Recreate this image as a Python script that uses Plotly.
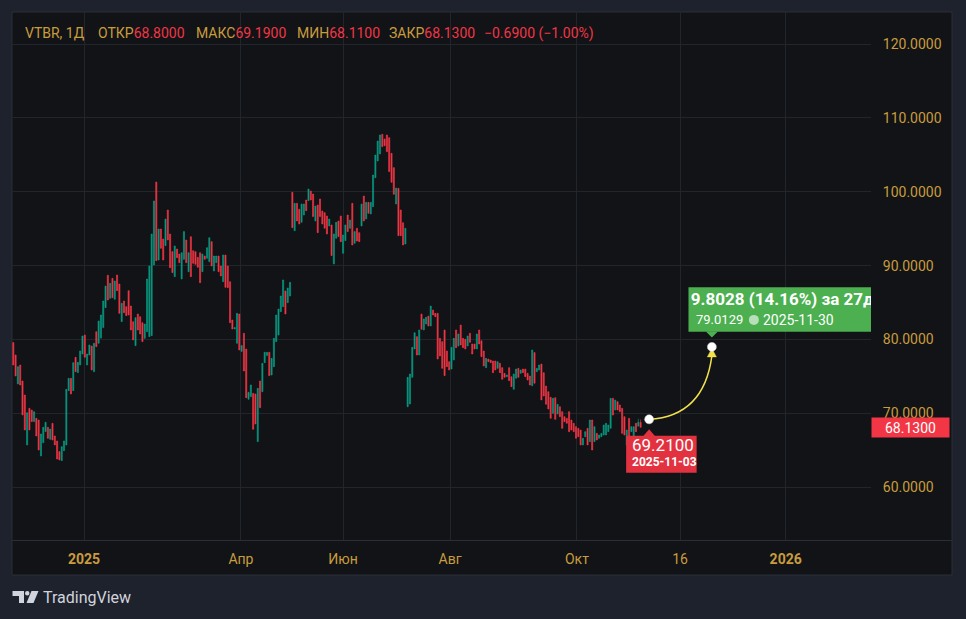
import plotly.graph_objects as go

# ---------------- data (daily bars, VTBR) ----------------
OPEN = [
    79.59, 77.92, 74.00, 76.56, 74.40, 72.50, 65.74, 70.70, 70.47, 68.90,
    69.35, 69.12, 64.25, 66.05, 67.54, 68.13, 66.50, 68.67, 66.96, 66.28,
    64.84, 63.62, 64.97, 65.74, 73.09, 74.76, 73.09, 77.60, 75.53, 76.56,
    78.05, 80.62, 76.56, 77.92, 79.13, 75.66, 81.07, 79.50, 80.20, 81.62,
    84.32, 88.70, 85.58, 88.29, 85.45, 88.74, 87.52, 82.43, 85.22, 84.46,
    86.62, 84.55, 82.43, 79.18, 83.46, 83.10, 82.29, 80.17, 81.07, 80.40,
    80.53, 90.09, 101.33, 90.77, 94.97, 93.61, 92.71, 97.54, 94.29, 91.90,
    88.52, 92.26, 91.58, 88.20, 90.86, 93.48, 89.19, 93.93, 92.03, 91.90,
    91.13, 91.76, 89.19, 91.31, 91.00, 90.55, 93.25, 89.28, 90.41, 91.31,
    89.96, 87.84, 91.45, 89.96, 87.84, 82.65, 81.43, 79.50, 83.46, 78.40,
    80.85, 78.73, 71.92, 72.28, 72.73, 72.64, 66.19, 74.40, 72.95, 76.88,
    77.83, 78.28, 75.21, 76.34, 79.72, 80.62, 83.78, 84.46, 86.58, 85.00,
    85.90, 99.93, 94.74, 98.44, 97.63, 95.87, 96.86, 98.89, 98.80, 100.11,
    99.70, 96.05, 98.21, 99.03, 97.40, 97.18, 96.73, 95.37, 95.51, 90.23,
    93.70, 96.05, 96.73, 91.67, 93.39, 96.86, 95.06, 98.44, 93.03, 95.06,
    94.47, 95.37, 99.43, 96.32, 98.57, 97.00, 97.99, 101.91, 104.17, 105.12,
    107.78, 107.15, 107.69, 107.33, 105.21, 103.27, 98.35, 100.47, 97.54, 95.82,
    92.94, 70.92, 71.28, 74.89, 78.73, 80.40, 77.91, 83.46, 81.30, 82.11,
    83.19, 81.84, 84.00, 83.55, 83.55, 80.17, 79.72, 81.30, 78.46, 77.01,
    76.02, 77.24, 81.30, 79.13, 81.97, 80.17, 80.03, 79.13, 80.85, 79.40,
    79.40, 78.73, 81.30, 79.85, 78.46, 76.20, 77.37, 77.24, 77.10, 77.10,
    76.11, 76.79, 76.20, 75.43, 74.98, 76.20, 74.98, 73.27, 74.76, 76.11,
    75.43, 76.02, 76.02, 75.43, 75.07, 73.76, 78.24, 75.66, 75.89, 76.70,
    75.52, 73.72, 72.95, 72.19, 70.02, 72.14, 69.93, 70.92, 70.25, 69.57,
    69.34, 70.25, 69.12, 68.67, 68.22, 67.99, 67.76, 65.74, 66.86, 67.99,
    66.19, 69.12, 66.19, 67.31, 66.64, 66.86, 67.09, 67.09, 67.54, 67.99,
    72.05, 70.47, 71.60, 71.15, 70.70, 69.57, 65.74, 69.34, 67.54, 65.96,
    68.67, 68.30, 68.80,
]
HIGH = [
    79.59, 77.92, 76.34, 76.56, 74.40, 72.50, 70.11, 70.70, 70.47, 70.25,
    69.35, 69.12, 67.23, 68.13, 68.81, 68.13, 67.90, 68.67, 66.96, 66.28,
    64.84, 65.51, 66.28, 73.27, 74.76, 74.76, 76.88, 77.60, 76.92, 78.46,
    80.49, 80.62, 78.05, 79.27, 79.13, 79.50, 81.07, 82.52, 83.33, 85.22,
    87.25, 88.70, 87.61, 88.29, 87.93, 88.74, 87.52, 84.91, 85.22, 84.46,
    86.62, 84.55, 82.43, 82.97, 83.46, 83.10, 82.29, 82.11, 88.20, 89.96,
    94.29, 98.76, 101.33, 94.97, 94.97, 93.61, 96.32, 97.54, 94.29, 91.90,
    92.67, 92.26, 91.58, 91.76, 94.61, 93.48, 91.76, 93.93, 92.03, 91.90,
    91.13, 91.76, 91.58, 91.31, 92.44, 93.79, 93.25, 91.31, 91.31, 91.31,
    89.96, 91.45, 91.45, 89.96, 87.84, 82.65, 81.62, 83.55, 83.46, 79.20,
    80.85, 78.73, 72.86, 73.86, 72.73, 72.64, 73.41, 74.40, 76.79, 78.28,
    78.28, 78.28, 77.47, 80.17, 83.33, 84.14, 85.90, 88.07, 86.58, 86.98,
    87.75, 99.93, 98.44, 98.44, 97.63, 98.35, 98.35, 98.89, 100.38, 100.11,
    99.70, 98.08, 98.21, 99.03, 97.40, 97.18, 96.73, 96.32, 95.51, 94.29,
    95.87, 96.05, 96.73, 94.15, 95.51, 96.86, 96.18, 98.44, 94.61, 95.06,
    94.47, 98.35, 99.43, 98.57, 98.57, 98.57, 102.27, 104.98, 106.87, 107.69,
    107.78, 107.15, 107.69, 107.33, 105.21, 103.27, 100.50, 100.47, 97.54, 95.82,
    95.06, 74.89, 75.34, 78.95, 80.94, 80.40, 81.30, 83.46, 82.79, 83.01,
    83.19, 84.54, 84.00, 83.55, 83.55, 80.17, 79.72, 81.30, 78.46, 77.01,
    78.95, 80.17, 81.30, 80.76, 81.97, 80.17, 80.03, 80.49, 80.85, 79.40,
    79.40, 80.76, 81.30, 79.85, 78.46, 77.46, 77.37, 77.24, 77.10, 77.10,
    77.01, 76.79, 76.20, 75.43, 75.21, 76.20, 74.98, 75.34, 76.02, 76.11,
    75.89, 76.02, 76.02, 75.43, 75.07, 78.59, 78.24, 76.11, 76.56, 76.70,
    75.52, 73.72, 72.95, 72.19, 72.05, 72.14, 71.24, 70.92, 70.25, 69.57,
    69.34, 70.25, 69.12, 68.67, 68.22, 67.99, 67.76, 66.64, 67.54, 67.99,
    69.12, 69.12, 68.22, 67.31, 67.09, 67.31, 68.44, 68.67, 68.44, 72.05,
    72.05, 71.82, 71.60, 71.15, 70.70, 69.57, 67.76, 69.34, 68.22, 68.22,
    68.67, 69.30, 69.19,
]
LOW = [
    76.56, 75.08, 74.00, 73.86, 69.80, 67.77, 65.74, 67.77, 68.90, 68.90,
    66.96, 65.06, 64.25, 66.05, 67.54, 66.64, 66.50, 66.41, 65.74, 63.84,
    63.71, 63.62, 64.97, 65.74, 73.09, 72.64, 73.09, 75.66, 75.53, 76.56,
    78.05, 77.60, 76.56, 77.92, 75.89, 75.66, 79.04, 79.50, 80.20, 81.62,
    84.32, 85.36, 85.58, 85.67, 85.45, 86.62, 83.55, 82.43, 83.64, 83.24,
    83.33, 81.30, 79.95, 79.18, 81.30, 80.76, 79.72, 80.17, 81.07, 80.40,
    80.53, 90.09, 90.68, 90.77, 92.35, 90.77, 92.71, 93.48, 89.73, 89.06,
    88.52, 91.09, 90.41, 88.20, 90.86, 90.41, 89.19, 88.52, 90.32, 90.18,
    89.78, 87.70, 89.19, 90.86, 91.00, 90.55, 89.96, 89.28, 90.41, 89.19,
    88.61, 87.84, 87.07, 87.03, 82.29, 81.43, 81.43, 79.50, 78.59, 78.40,
    75.75, 72.14, 71.92, 72.28, 67.86, 68.58, 66.19, 70.79, 72.95, 76.88,
    77.83, 75.12, 75.21, 76.34, 79.72, 80.62, 83.78, 84.46, 83.46, 85.00,
    85.90, 95.15, 94.74, 96.05, 95.64, 95.87, 96.86, 97.45, 98.80, 98.89,
    96.64, 96.05, 94.47, 96.64, 95.64, 95.06, 94.29, 95.37, 91.36, 90.23,
    93.70, 93.93, 93.25, 91.67, 93.39, 94.61, 95.06, 92.80, 93.03, 93.34,
    93.25, 95.37, 96.05, 96.32, 97.09, 97.00, 97.99, 101.91, 104.17, 105.12,
    106.11, 106.24, 105.43, 102.73, 101.28, 99.66, 98.35, 94.06, 94.06, 92.80,
    92.94, 70.92, 71.28, 74.89, 78.73, 77.91, 77.91, 81.39, 81.30, 82.11,
    81.84, 81.84, 83.33, 83.10, 77.37, 77.78, 76.11, 75.12, 76.34, 75.89,
    76.02, 77.24, 78.91, 79.13, 79.27, 78.91, 78.73, 79.13, 79.63, 78.05,
    78.73, 78.73, 79.40, 77.69, 76.43, 76.20, 77.01, 76.88, 75.52, 75.89,
    76.11, 75.52, 74.62, 74.89, 74.98, 74.44, 73.63, 73.27, 74.76, 74.89,
    75.43, 75.52, 74.98, 74.53, 73.85, 73.76, 74.09, 75.66, 75.89, 71.83,
    72.37, 71.24, 70.61, 69.35, 70.02, 69.21, 69.93, 69.57, 67.99, 68.89,
    68.67, 67.54, 67.76, 67.54, 66.64, 66.86, 65.74, 65.74, 66.86, 65.74,
    66.19, 65.06, 66.19, 66.41, 66.64, 66.86, 67.09, 67.09, 67.54, 67.99,
    69.79, 70.47, 70.47, 70.25, 67.31, 67.09, 65.74, 66.19, 67.54, 65.96,
    67.54, 68.20, 68.11,
]
CLOSE = [
    76.56, 75.08, 76.34, 73.86, 69.80, 67.77, 70.11, 67.77, 68.90, 70.25,
    66.96, 65.06, 67.23, 68.13, 68.81, 66.64, 67.90, 66.41, 65.74, 63.84,
    63.71, 65.51, 66.28, 73.27, 74.76, 72.64, 76.88, 75.66, 76.92, 78.46,
    80.49, 77.60, 78.05, 79.27, 75.89, 79.50, 79.04, 82.52, 83.33, 85.22,
    87.25, 85.36, 87.61, 85.67, 87.93, 86.62, 83.55, 84.91, 83.64, 83.24,
    83.33, 81.30, 79.95, 82.97, 81.30, 80.76, 79.72, 82.11, 88.20, 89.96,
    94.29, 98.76, 90.68, 94.97, 92.35, 90.77, 96.32, 93.48, 89.73, 89.06,
    92.67, 91.09, 90.41, 91.76, 94.61, 90.41, 91.76, 88.52, 90.32, 90.18,
    89.78, 87.70, 91.58, 90.86, 92.44, 93.79, 89.96, 91.31, 91.31, 89.19,
    88.61, 91.45, 87.07, 87.03, 82.29, 81.43, 81.62, 83.55, 78.59, 79.20,
    75.75, 72.14, 72.86, 73.86, 67.86, 68.58, 73.41, 70.79, 76.79, 78.28,
    78.28, 75.12, 77.47, 80.17, 83.33, 84.14, 85.90, 88.07, 83.46, 86.98,
    87.75, 95.15, 98.44, 96.05, 95.64, 98.35, 98.35, 97.45, 100.38, 98.89,
    96.64, 98.08, 94.47, 96.64, 95.64, 95.06, 94.29, 96.32, 91.36, 94.29,
    95.87, 93.93, 93.25, 94.15, 95.51, 94.61, 96.18, 92.80, 94.61, 93.34,
    93.25, 98.35, 96.05, 98.57, 97.09, 98.57, 102.27, 104.98, 106.87, 107.69,
    106.11, 106.24, 105.43, 102.73, 101.28, 99.66, 100.50, 94.06, 94.06, 92.80,
    95.06, 74.89, 75.34, 78.95, 80.94, 77.91, 81.30, 81.39, 82.79, 83.01,
    81.84, 84.54, 83.33, 83.10, 77.37, 77.78, 76.11, 75.12, 76.34, 75.89,
    78.95, 80.17, 78.91, 80.76, 79.27, 78.91, 78.73, 80.49, 79.63, 78.05,
    78.73, 80.76, 79.40, 77.69, 76.43, 77.46, 77.01, 76.88, 75.52, 75.89,
    77.01, 75.52, 74.62, 74.89, 75.21, 74.44, 73.63, 75.34, 76.02, 74.89,
    75.89, 75.52, 74.98, 74.53, 73.85, 78.59, 74.09, 76.11, 76.56, 71.83,
    72.37, 71.24, 70.61, 69.35, 72.05, 69.21, 71.24, 69.57, 67.99, 68.89,
    68.67, 67.54, 67.76, 67.54, 66.64, 66.86, 65.74, 66.64, 67.54, 65.74,
    69.12, 65.06, 68.22, 66.41, 67.09, 67.31, 68.44, 68.67, 68.44, 72.05,
    69.79, 71.82, 70.47, 70.25, 67.31, 67.09, 67.76, 66.19, 68.22, 68.22,
    67.54, 68.82, 68.13,
]
assert len(OPEN) == len(HIGH) == len(LOW) == len(CLOSE)

BAR_INDEX = list(range(len(CLOSE)))          # trading-bar index on the time scale

Y_TICKS = [60, 70, 80, 90, 100, 110, 120]
X_TICK_POS = [30.7, 98.7, 143.0, 189.4, 244.4, 289.1, 334.9]
X_TICK_TEXT = ["<b>2025</b>", "Апр", "Июн", "Авг", "Окт", "16", "<b>2026</b>"]

SYMBOL = "VTBR"
INTERVAL = "1Д"
LAST_OPEN, LAST_HIGH, LAST_LOW, LAST_CLOSE = 68.80, 69.19, 68.11, 68.13
LAST_CHANGE, LAST_PCT = -0.69, -1.00

# date-range measurement drawing
M_START_X, M_START_Y, M_START_DATE = 275.7, 69.21, "2025-11-03"
M_END_X, M_END_Y, M_END_DATE = 302.9, 79.0129, "2025-11-30"
M_DIFF, M_PCT, M_DAYS = 9.8028, 14.16, 27

# ---------------- styling / layout ----------------
W, H = 966, 619
PL, PR, PT, PB = 12, 871, 12, 540
X_RANGE = [-0.56, 371.9]
Y_RANGE = [52.88, 124.33]

FRAME = "#1e222d"
PANEL = "#111317"
GRID = "#22252c"
BORDER = "#2a2e39"
GOLD = "#c99c3d"
RED = "#f23645"
GREEN = "#089981"
FONT = "Roboto"


def x2px(x):
    return PL + (x - X_RANGE[0]) / (X_RANGE[1] - X_RANGE[0]) * (PR - PL)


def y2py(y):
    return PT + (Y_RANGE[1] - y) / (Y_RANGE[1] - Y_RANGE[0]) * (PB - PT)


def px2x(px):
    return X_RANGE[0] + (px - PL) / (PR - PL) * (X_RANGE[1] - X_RANGE[0])


def py2y(py):
    return Y_RANGE[1] - (py - PT) / (PB - PT) * (Y_RANGE[1] - Y_RANGE[0])


def pxp(px):
    return (px - PL) / (PR - PL)


def pyp(py):
    return (PB - py) / (PB - PT)


fig = go.Figure()

fig.add_trace(go.Candlestick(
    x=BAR_INDEX, open=OPEN, high=HIGH, low=LOW, close=CLOSE,
    increasing=dict(line=dict(color=GREEN, width=0.6), fillcolor=GREEN),
    decreasing=dict(line=dict(color=RED, width=0.6), fillcolor=RED),
    whiskerwidth=0, hoverinfo="skip", showlegend=False,
))

shapes = []
annotations = []

# chart panel + borders
shapes.append(dict(type="rect", xref="paper", yref="paper", layer="below",
                   x0=pxp(12), x1=pxp(952), y0=pyp(575), y1=pyp(12),
                   fillcolor=PANEL, line=dict(color=BORDER, width=1)))
shapes.append(dict(type="line", xref="paper", yref="paper", layer="above",
                   x0=pxp(12), x1=pxp(952), y0=pyp(540.5), y1=pyp(540.5),
                   line=dict(color=BORDER, width=1)))

# ---- measurement drawing ----
sx, sy = x2px(M_START_X), y2py(M_START_Y)
ex, ey = x2px(M_END_X), y2py(M_END_Y)

# curved arrow
ctrl_x, ctrl_y = px2x(ex - 8), py2y(sy - 3)
tip_base_y = py2y(ey + 9)
shapes.append(dict(type="path", xref="x", yref="y", layer="between",
                   path=f"M {M_START_X},{M_START_Y} Q {ctrl_x},{ctrl_y} {M_END_X},{tip_base_y}",
                   line=dict(color="#f2e14c", width=1.5)))
shapes.append(dict(type="path", xref="x", yref="y", layer="between",
                   path=(f"M {M_END_X},{py2y(ey + 1.5)} L {px2x(ex + 4.5)},{py2y(ey + 10)} "
                         f"L {px2x(ex - 4.5)},{py2y(ey + 10)} Z"),
                   fillcolor="#f2e14c", line=dict(color="#f2e14c", width=0.5)))

# green info box (clipped at the price scale; drawn under the text traces)
BOX_G = "#4caf50"
shapes.append(dict(type="rect", xref="x", yref="y", layer="between",
                   x0=px2x(ex - 23.4), x1=px2x(ex + 230), y0=py2y(ey - 15.2), y1=py2y(ey - 59.6),
                   fillcolor=BOX_G, line=dict(width=0)))
shapes.append(dict(type="path", xref="x", yref="y", layer="between",
                   path=(f"M {px2x(ex - 6)},{py2y(ey - 15.5)} L {M_END_X},{py2y(ey - 9.5)} "
                         f"L {px2x(ex + 6)},{py2y(ey - 15.5)} Z"),
                   fillcolor=BOX_G, line=dict(width=0)))

# red info box
BOX_R = "#e3323f"
shapes.append(dict(type="rect", xref="x", yref="y", layer="above",
                   x0=px2x(sx - 23), x1=px2x(sx + 47.5), y0=py2y(sy + 53.5), y1=py2y(sy + 16.5),
                   fillcolor=BOX_R, line=dict(width=0)))
shapes.append(dict(type="path", xref="x", yref="y", layer="above",
                   path=(f"M {px2x(sx - 6)},{py2y(sy + 17)} L {M_START_X},{py2y(sy + 10)} "
                         f"L {px2x(sx + 6)},{py2y(sy + 17)} Z"),
                   fillcolor=BOX_R, line=dict(width=0)))

# endpoint dots
fig.add_trace(go.Scatter(
    x=[M_START_X, M_END_X], y=[M_START_Y, M_END_Y], mode="markers",
    marker=dict(color="white", size=9, line=dict(color="#d0d0d0", width=0.5)),
    hoverinfo="skip", showlegend=False, cliponaxis=False,
))

# green box headline (clipped at the plot edge)
fig.add_trace(go.Scatter(
    x=[px2x(ex - 21)], y=[py2y(ey - 46.5)], mode="text",
    text=[f"<b>{M_DIFF:.4f} ({M_PCT:.2f}%) за {M_DAYS}д</b>"],
    textposition="middle right",
    textfont=dict(color="white", size=17, family=FONT),
    hoverinfo="skip", showlegend=False, cliponaxis=True,
))
# clock icon
fig.add_trace(go.Scatter(
    x=[px2x(ex + 42)], y=[py2y(ey - 27)], mode="markers",
    marker=dict(color="rgba(255,255,255,0.6)", size=10),
    hoverinfo="skip", showlegend=False,
))
annotations.append(dict(xref="x", yref="y", x=px2x(ex - 18), y=py2y(ey - 27),
                        xanchor="left", yanchor="middle", showarrow=False,
                        text=f"{M_END_Y:.4f}", font=dict(color="white", size=13, family=FONT)))
annotations.append(dict(xref="x", yref="y", x=px2x(ex + 49.5), y=py2y(ey - 27),
                        xanchor="left", yanchor="middle", showarrow=False,
                        text=M_END_DATE, font=dict(color="white", size=14, family=FONT)))
annotations.append(dict(xref="x", yref="y", x=px2x(sx - 19), y=py2y(sy + 26),
                        xanchor="left", yanchor="middle", showarrow=False,
                        text=f"{M_START_Y:.4f}", font=dict(color="white", size=17, family=FONT)))
annotations.append(dict(xref="x", yref="y", x=px2x(sx - 19), y=py2y(sy + 43),
                        xanchor="left", yanchor="middle", showarrow=False,
                        text=f"<b>{M_START_DATE}</b>", font=dict(color="white", size=12, family=FONT)))

# ---- header legend ----
def red(v):
    return f"<span style='color:{RED}'>{v}</span>"

header = [
    (23, f"{SYMBOL}, {INTERVAL}"),
    (95.5, "ОТКР" + red(f"{LAST_OPEN:.4f}")),
    (193.5, "МАКС" + red(f"{LAST_HIGH:.4f}")),
    (294.5, "МИН" + red(f"{LAST_LOW:.4f}")),
    (387, "ЗАКР" + red(f"{LAST_CLOSE:.4f}")),
    (482, red(f"−{abs(LAST_CHANGE):.4f} (−{abs(LAST_PCT):.2f}%)")),
]
for px, txt in header:
    annotations.append(dict(xref="paper", yref="paper", x=pxp(px), y=pyp(33),
                            xanchor="left", yanchor="middle", showarrow=False,
                            text=txt, font=dict(color=GOLD, size=14, family=FONT)))

# last price label on the price scale
annotations.append(dict(xref="paper", yref="y", x=1, y=LAST_CLOSE, xanchor="left",
                        yanchor="middle", showarrow=False, text=f"{LAST_CLOSE:.4f}",
                        font=dict(color="white", size=14, family=FONT),
                        bgcolor=RED, width=73, height=15, borderpad=2, align="center"))

# TradingView logo
LOGO = "#d1d4dc"
shapes.append(dict(type="path", xref="paper", yref="paper", layer="above",
                   path=(f"M {pxp(12.5)},{pyp(591)} L {pxp(24)},{pyp(591)} L {pxp(24)},{pyp(603)} "
                         f"L {pxp(19)},{pyp(603)} L {pxp(19)},{pyp(596)} L {pxp(12.5)},{pyp(596)} Z"),
                   fillcolor=LOGO, line=dict(width=0)))
shapes.append(dict(type="circle", xref="paper", yref="paper", layer="above",
                   x0=pxp(25), x1=pxp(29.5), y0=pyp(595.5), y1=pyp(591),
                   fillcolor=LOGO, line=dict(width=0)))
shapes.append(dict(type="path", xref="paper", yref="paper", layer="above",
                   path=(f"M {pxp(31.5)},{pyp(591)} L {pxp(38.5)},{pyp(591)} L {pxp(33.5)},{pyp(603)} "
                         f"L {pxp(26.5)},{pyp(603)} Z"),
                   fillcolor=LOGO, line=dict(width=0)))
annotations.append(dict(xref="paper", yref="paper", x=pxp(41), y=pyp(597.5),
                        xanchor="left", yanchor="middle", showarrow=False,
                        text="TradingView", font=dict(color=LOGO, size=16, family=FONT)))

fig.update_layout(
    width=W, height=H,
    margin=dict(l=PL, r=W - PR, t=PT, b=H - PB, pad=0),
    paper_bgcolor=FRAME, plot_bgcolor=PANEL,
    font=dict(family=FONT, color=GOLD),
    showlegend=False,
    shapes=shapes, annotations=annotations,
    xaxis=dict(range=X_RANGE, tickmode="array", tickvals=X_TICK_POS, ticktext=X_TICK_TEXT,
               showgrid=True, gridcolor=GRID, gridwidth=1, zeroline=False, showline=False,
               ticks="outside", ticklen=6, tickcolor="rgba(0,0,0,0)",
               tickfont=dict(color=GOLD, size=14, family=FONT),
               rangeslider=dict(visible=False), fixedrange=True),
    yaxis=dict(range=Y_RANGE, side="right", tickmode="array", tickvals=Y_TICKS,
               tickformat=".4f", showgrid=True, gridcolor=GRID, gridwidth=1,
               zeroline=False, showline=False, ticks="outside", ticklen=8,
               tickcolor="rgba(0,0,0,0)",
               tickfont=dict(color=GOLD, size=14, family=FONT), fixedrange=True),
)

fig.write_html("out.html")
